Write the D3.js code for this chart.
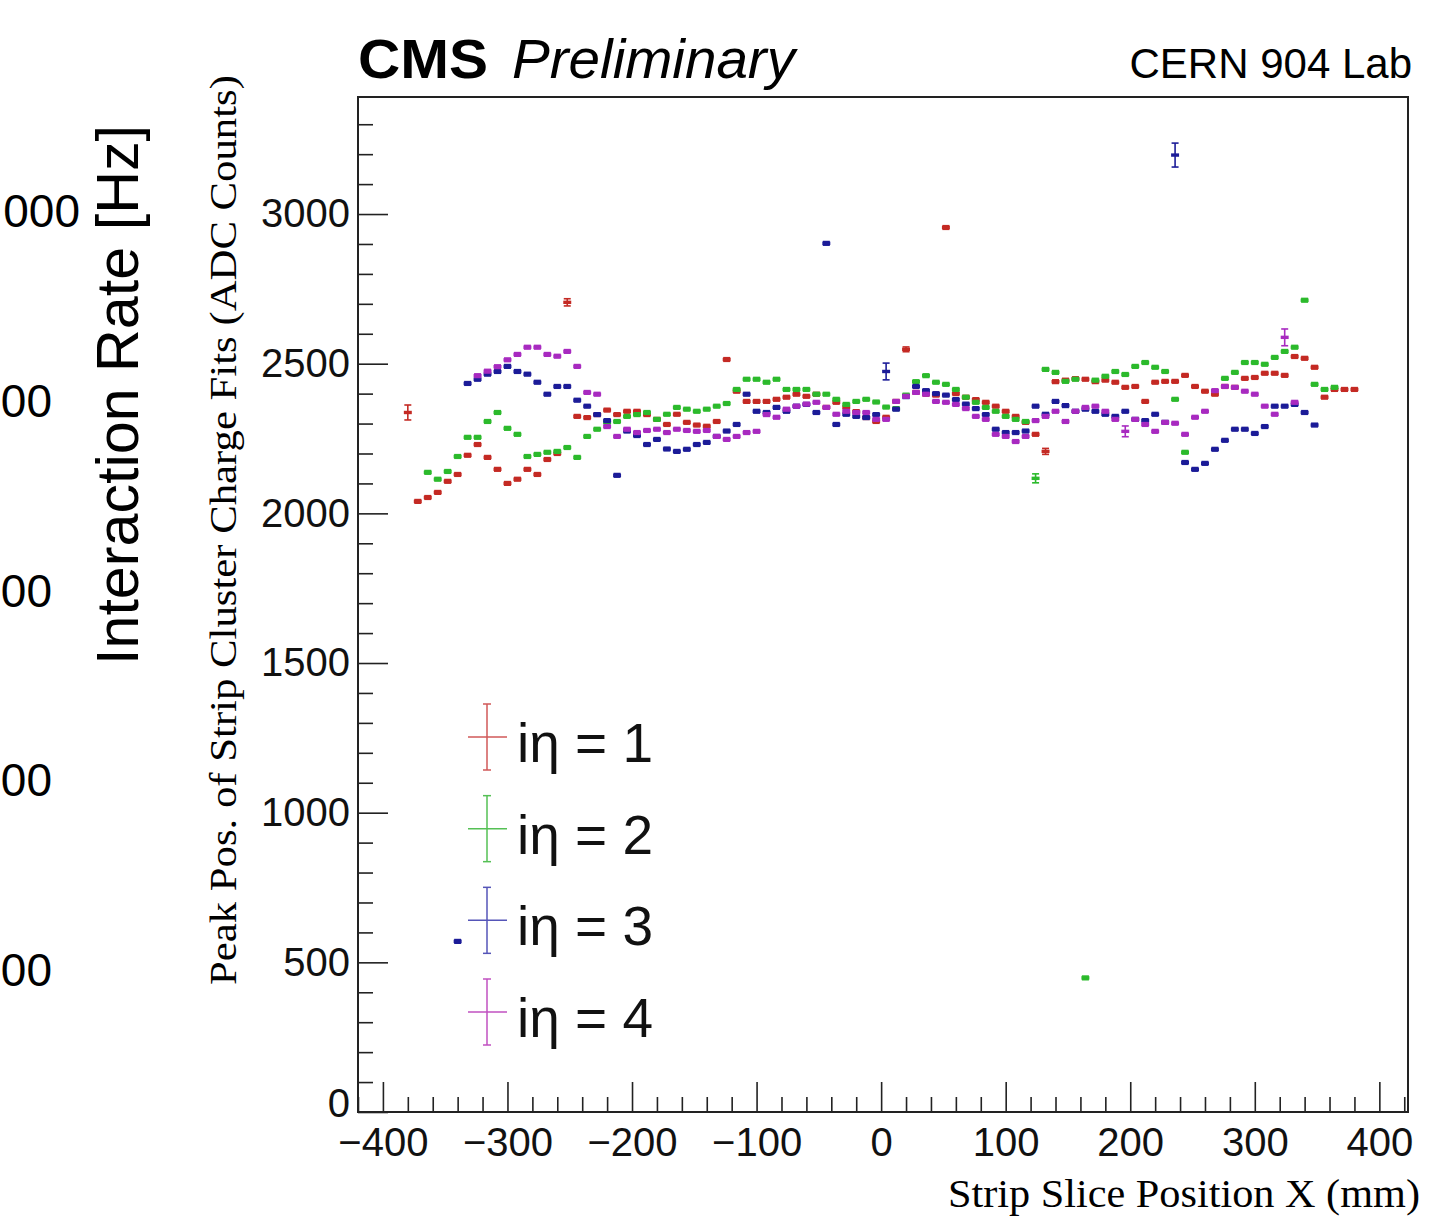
<!DOCTYPE html>
<html>
<head>
<meta charset="utf-8">
<script src="https://cdn.jsdelivr.net/npm/d3@7"></script>
<style>
  body { margin: 0; background: #fff; }
  svg { display: block; }
</style>
</head>
<body>
<div id="chart"></div>
<script>
// ---- data -------------------------------------------------------------
// strip slices of 8 mm, centres from -380 mm to +380 mm (96 bins)
const binWidth = 8;
const binCenters = d3.range(96).map(i => -380 + i * binWidth);

// peak position of the cluster charge fit (ADC counts), one value per slice, null = empty
const eta1 = [2337,2040,2053,2070,2107,2130,2194,2230,2187,2147,2100,2114,2147,2130,2180,2200,
  2705,2324,2320,2330,2345,2330,2341,2341,2330,2314,2297,2331,2304,2295,2291,2307,
  2514,2408,2374,2374,2374,2381,2388,2398,2391,2398,2354,2371,2354,2340,2320,2307,
  2321,2374,2548,2404,2398,2395,2955,2400,2388,2380,2371,2358,2341,2324,2304,2264,
  2207,2440,2445,2450,2448,2440,2445,2438,2421,2424,2374,2438,2441,2441,2461,2424,
  2408,2398,2424,2421,2451,2454,2468,2468,2461,2524,2518,2488,2388,2414,2414,2414];

const eta2 = [null,null,2137,2114,2140,2190,2254,2254,2307,2337,2284,2264,2190,2197,2204,2207,
  2220,2187,2257,2281,2304,2307,2324,2330,2337,2314,2331,2354,2348,2341,2348,2358,
  2367,2414,2448,2448,2438,2448,2414,2414,2414,2398,2398,2381,2364,2374,2381,2372,
  2355,2350,2395,2440,2460,2438,2431,2414,2388,2371,2354,2341,2324,2314,2307,2117,
  2481,2471,2441,2448,448,2445,2458,2474,2464,2491,2504,2488,2474,2381,2204,null,
  null,null,2451,2471,2504,2504,2498,2521,2541,2555,2712,2431,2414,2421,null,null];

const eta3 = [null,null,null,null,null,570,2434,2448,2465,2474,2491,2474,2465,2438,2398,2424,
  2424,2378,2358,2330,2310,2127,2275,2260,2230,2247,2215,2207,2214,2230,2237,2257,
  2275,2297,2398,2341,2337,2354,2341,2358,2364,2337,2902,2297,2331,2324,2320,2330,
  2474,2348,2390,2424,2410,2400,2395,2380,2365,2350,2330,2281,2270,2270,2275,2358,
  2331,2374,2360,2341,2348,2341,2331,2324,2341,2314,2310,2331,2304,3197,2170,2147,
  2167,2214,2244,2281,2281,2267,2290,2358,2358,2364,2337,2295,null,null,null,null];

const eta4 = [null,null,null,null,null,null,null,2460,2475,2490,2513,2531,2555,2555,2531,2525,
  2541,2491,2404,2398,2290,2257,2281,2270,2277,2281,2270,2281,2277,2274,2277,2257,
  2247,2257,2270,2274,2330,2321,2348,2358,2365,2371,2354,2331,2341,2337,2337,2314,
  2314,2374,2391,2404,2398,2374,2371,2364,2350,2324,2314,2264,2257,2240,2257,2310,
  2324,2341,2307,2341,2354,2358,2341,2314,2274,2314,2297,2274,2304,2301,2264,2321,
  2341,2410,2424,2421,2408,2398,2358,2331,2588,2371,null,null,null,null,null,null];

// fit uncertainty: small everywhere, larger for a few slices [series, bin, error]
const defaultError = 6;
const largeErrors = [[0,0,25],[0,16,12],[0,50,8],[0,64,10],[1,63,15],
  [2,48,28],[2,77,40],[3,88,28],[3,72,18]];

const seriesNames = ['iη = 1', 'iη = 2', 'iη = 3', 'iη = 4'];
const seriesColors = ['#c42a24', '#2cba2c', '#1c1c98', '#a82ac0'];
const legendColors = ['#d05858', '#55c055', '#5555b8', '#c050c0'];

const xTicks = [-400,-300,-200,-100,0,100,200,300,400];
const yTicks = [0,500,1000,1500,2000,2500,3000];

// tick labels of the neighbouring (cropped) plot on the left
const leftTickValues = [3000,2500,2000,1500,1000];
const leftTickLabels = ['000','00','00','00','00'];

// ---- drawing ----------------------------------------------------------
const W = 1443, H = 1224;
const frame = {left: 358, right: 1408, top: 97, bottom: 1112};
const sans = "'Liberation Sans', Arial, Helvetica, sans-serif";
const serif = "'Liberation Serif', 'Times New Roman', serif";

const svg = d3.select('#chart').append('svg')
  .attr('width', W).attr('height', H)
  .attr('viewBox', `0 0 ${W} ${H}`);

const x = d3.scaleLinear([-420, 423], [frame.left, frame.right]);
const y = d3.scaleLinear([0, 3391], [frame.bottom, frame.top]);

// neighbouring plot remnants
const leftY = d3.scaleLinear([1000, 3000], [970, 211]);
svg.append('g').selectAll('text')
  .data(leftTickValues)
  .join('text')
  .attr('x', (d, i) => i === 0 ? 80 : 52)
  .attr('y', d => leftY(d) + 16)
  .attr('text-anchor', 'end')
  .style('font-family', sans).style('font-size', '46px')
  .text((d, i) => leftTickLabels[i]);

svg.append('text')
  .attr('transform', 'translate(138,395)rotate(-90)')
  .attr('text-anchor', 'middle')
  .attr('textLength', 540).attr('lengthAdjust', 'spacingAndGlyphs')
  .style('font-family', sans).style('font-size', '59px')
  .text('Interaction Rate [Hz]');

// axes, ticks pointing inwards
const fmt = d => d < 0 ? '\u2212' + Math.abs(d) : String(d);
const xMinor = d3.range(-420, 424, 20).filter(v => v % 100 !== 0);
const yMinor = d3.range(0, 3391, 100).filter(v => v % 500 !== 0);

const axX = svg.append('g').attr('transform', `translate(0,${frame.bottom})`);
axX.call(d3.axisBottom(x).tickValues(xTicks).tickSize(-30).tickPadding(16).tickFormat(fmt));
const axXm = svg.append('g').attr('transform', `translate(0,${frame.bottom})`);
axXm.call(d3.axisBottom(x).tickValues(xMinor).tickSize(-15).tickFormat(''));

const axY = svg.append('g').attr('transform', `translate(${frame.left},0)`);
axY.call(d3.axisLeft(y).tickValues(yTicks).tickSize(-30).tickPadding(8).tickFormat(fmt));
const axYm = svg.append('g').attr('transform', `translate(${frame.left},0)`);
axYm.call(d3.axisLeft(y).tickValues(yMinor).tickSize(-15).tickFormat(''));

[axX, axXm, axY, axYm].forEach(a => {
  a.select('.domain').remove();
  a.selectAll('line').attr('stroke', '#222').attr('stroke-width', 1.6);
  a.selectAll('text').style('font-family', sans).style('font-size', '40px').attr('fill', '#111');
});
// the zero label sits just above the x labels, as in the original
axY.selectAll('.tick').filter(d => d === 0).select('text').attr('dy', '0.1em');

svg.append('rect')
  .attr('x', frame.left).attr('y', frame.top)
  .attr('width', frame.right - frame.left).attr('height', frame.bottom - frame.top)
  .attr('fill', 'none').attr('stroke', '#222').attr('stroke-width', 2);

// data points: bin-width line + vertical error bar with caps
const errorOf = (s, i) => {
  const e = largeErrors.find(d => d[0] === s && d[1] === i);
  return e ? e[2] : defaultError;
};

[eta1, eta2, eta3, eta4].forEach((vals, s) => {
  const pts = vals.map((v, i) => ({c: binCenters[i], v, e: errorOf(s, i)}))
    .filter(d => d.v !== null);
  const g = svg.append('g').attr('stroke', seriesColors[s]).attr('fill', 'none');
  const p = g.selectAll('g').data(pts).join('g');
  p.append('line')
    .attr('x1', d => x(d.c - binWidth / 2) + 1).attr('x2', d => x(d.c + binWidth / 2) - 1)
    .attr('y1', d => y(d.v)).attr('y2', d => y(d.v))
    .attr('stroke-width', 3.4);
  p.append('line')
    .attr('x1', d => x(d.c)).attr('x2', d => x(d.c))
    .attr('y1', d => y(d.v - d.e)).attr('y2', d => y(d.v + d.e))
    .attr('stroke-width', 1.6);
  p.selectAll('line.cap')
    .data(d => [d.v - d.e, d.v + d.e].map(t => ({c: d.c, t})))
    .join('line').classed('cap', true)
    .attr('x1', d => x(d.c) - 3.5).attr('x2', d => x(d.c) + 3.5)
    .attr('y1', d => y(d.t)).attr('y2', d => y(d.t))
    .attr('stroke-width', 1.6);
});

// legend
const legendY = d3.scalePoint(seriesNames, [737, 1012]);
const leg = svg.append('g').selectAll('g').data(seriesNames).join('g')
  .attr('transform', d => `translate(487,${legendY(d)})`);
leg.append('line').attr('x1', -19).attr('x2', 20).attr('y1', 0).attr('y2', 0)
  .attr('stroke', (d, i) => legendColors[i]).attr('stroke-width', 1.5);
leg.append('line').attr('x1', 0).attr('x2', 0).attr('y1', -33).attr('y2', 33)
  .attr('stroke', (d, i) => legendColors[i]).attr('stroke-width', 1.5);
[-33, 33].forEach(t => {
  leg.append('line').attr('x1', -4).attr('x2', 4).attr('y1', t).attr('y2', t)
    .attr('stroke', (d, i) => legendColors[i]).attr('stroke-width', 1.5);
});
leg.append('text')
  .attr('x', 30).attr('y', 25)
  .style('font-family', sans).style('font-size', '55px').attr('fill', '#111')
  .text(d => d);

// titles
svg.append('text')
  .attr('x', 358).attr('y', 78)
  .attr('textLength', 130).attr('lengthAdjust', 'spacingAndGlyphs')
  .style('font-family', sans).style('font-size', '56px').style('font-weight', 'bold')
  .text('CMS');
svg.append('text')
  .attr('x', 512).attr('y', 78)
  .attr('textLength', 283).attr('lengthAdjust', 'spacingAndGlyphs')
  .style('font-family', sans).style('font-size', '56px').style('font-style', 'italic')
  .text('Preliminary');
svg.append('text')
  .attr('x', 1412).attr('y', 78).attr('text-anchor', 'end')
  .style('font-family', sans).style('font-size', '42px')
  .text('CERN 904 Lab');

svg.append('text')
  .attr('x', 1420).attr('y', 1207).attr('text-anchor', 'end')
  .attr('textLength', 472).attr('lengthAdjust', 'spacingAndGlyphs')
  .style('font-family', serif).style('font-size', '40px')
  .text('Strip Slice Position X (mm)');

svg.append('text')
  .attr('transform', 'translate(236,530)rotate(-90)')
  .attr('text-anchor', 'middle')
  .attr('textLength', 910).attr('lengthAdjust', 'spacingAndGlyphs')
  .style('font-family', serif).style('font-size', '38px')
  .text('Peak Pos. of Strip Cluster Charge Fits (ADC Counts)');
</script>
</body>
</html>
